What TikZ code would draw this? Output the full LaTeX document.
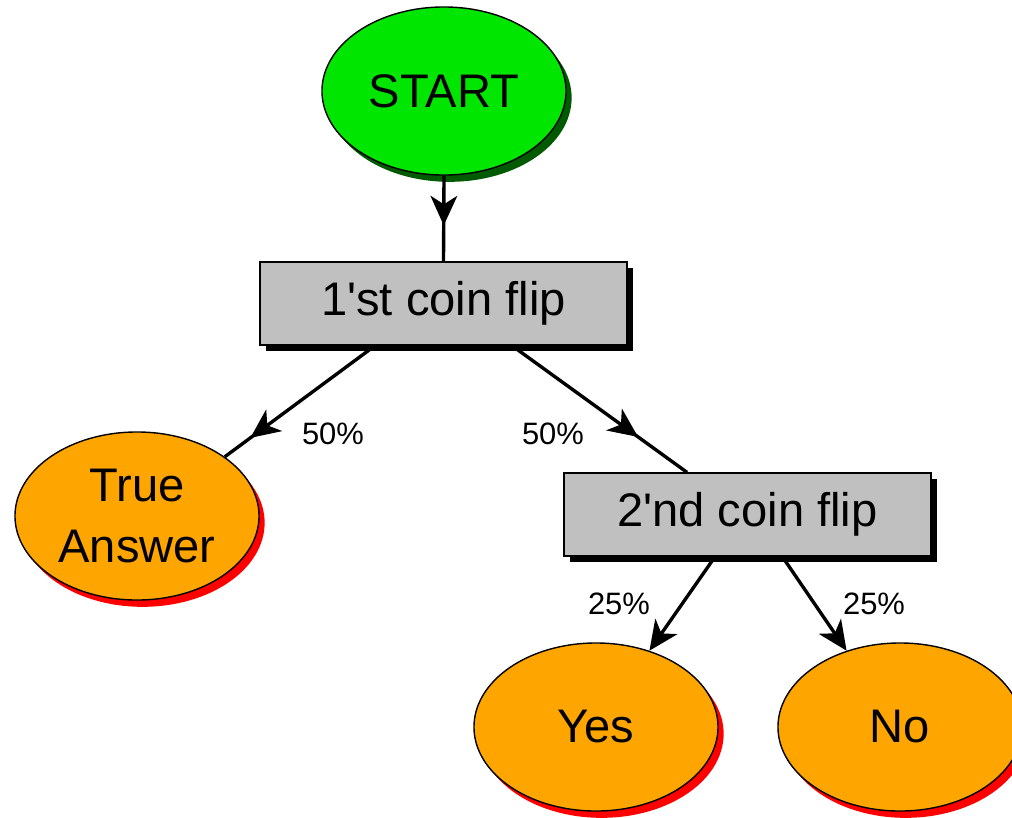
\documentclass[tikz,border=0pt]{standalone}
\usepackage{fontspec}
\setmainfont{Liberation Sans}[Ligatures=TeXOff]
\usetikzlibrary{arrows.meta,shadows,decorations.markings,shapes.geometric}

\definecolor{startgreen}{RGB}{0,230,0}
\definecolor{startshadow}{RGB}{0,90,0}
\definecolor{leaforange}{RGB}{255,165,0}
\definecolor{flipgray}{RGB}{192,192,192}

\tikzset{
  bigtext/.style={font=\fontsize{33.5}{43}\selectfont},
  pct/.style={font=\fontsize{22}{26}\selectfont},
  oval/.style={ellipse, draw=black, line width=1pt, minimum width=6.1cm,
    minimum height=4.2cm, inner sep=0pt, bigtext, align=center},
  startoval/.style={oval, fill=startgreen,
    drop shadow={shadow xshift=0.14cm, shadow yshift=-0.17cm, fill=startshadow, opacity=1}},
  leaf/.style={oval, fill=leaforange,
    drop shadow={shadow xshift=0.14cm, shadow yshift=-0.17cm, fill=red, opacity=1}},
  flipbox/.style={rectangle, draw=black, line width=1pt, fill=flipgray,
    minimum width=9.17cm, minimum height=2.07cm, bigtext,
    drop shadow={shadow xshift=0.15cm, shadow yshift=-0.15cm, fill=black, opacity=1}},
  conn/.style={line width=2.4pt, draw=black},
  head/.style={-{Stealth[length=21pt, width=19pt, inset=6pt]}},
  midhead/.style={decoration={markings,
      mark=at position #1 with {\arrow{Stealth[length=21pt, width=19pt, inset=6pt]}}},
    postaction=decorate}
}

\begin{document}
\begin{tikzpicture}[x=0.025cm, y=-0.025cm]
  \path[use as bounding box, clip] (0,0) rectangle (1012,817);
  \fill[white] (0,0) rectangle (1012,817);

  % nodes
  \node[startoval] (start) at (444,91) {START};
  \node[flipbox] (flip1) at (443.5,303.5) {1'st coin flip};
  \node[leaf] (true) at (137,516) {True\\Answer};
  \node[flipbox] (flip2) at (747.5,514.5) {2'nd coin flip};
  \node[leaf] (yes) at (596,727) {Yes};
  \node[leaf] (no) at (900,727) {No};

  % attachment points on the boxes
  \coordinate (f1l) at ([xshift=-1.71cm]flip1.south);
  \coordinate (f1r) at ([xshift=1.71cm]flip1.south);
  \coordinate (f2t) at ([xshift=-1.51cm]flip2.north);
  \coordinate (f2l) at ([xshift=-0.81cm]flip2.south);
  \coordinate (f2r) at ([xshift=0.87cm]flip2.south);

  % connectors
  \draw[conn, midhead=0.58] (start.south) -- (flip1.north);
  \draw[conn, midhead=0.83] (f1l) -- (true.34);
  \draw[conn, midhead=0.72] (f1r) -- (f2t);
  \draw[conn, head] (f2l) -- (yes.55);
  \draw[conn, head] (f2r) -- (no.125);

  % probabilities
  \node[pct] (p1) at (333,434) {50\%};
  \node[pct] (p2) at (553,434) {50\%};
  \node[pct] (p3) at (619,604) {25\%};
  \node[pct] (p4) at (874,604) {25\%};
\end{tikzpicture}
\end{document}
